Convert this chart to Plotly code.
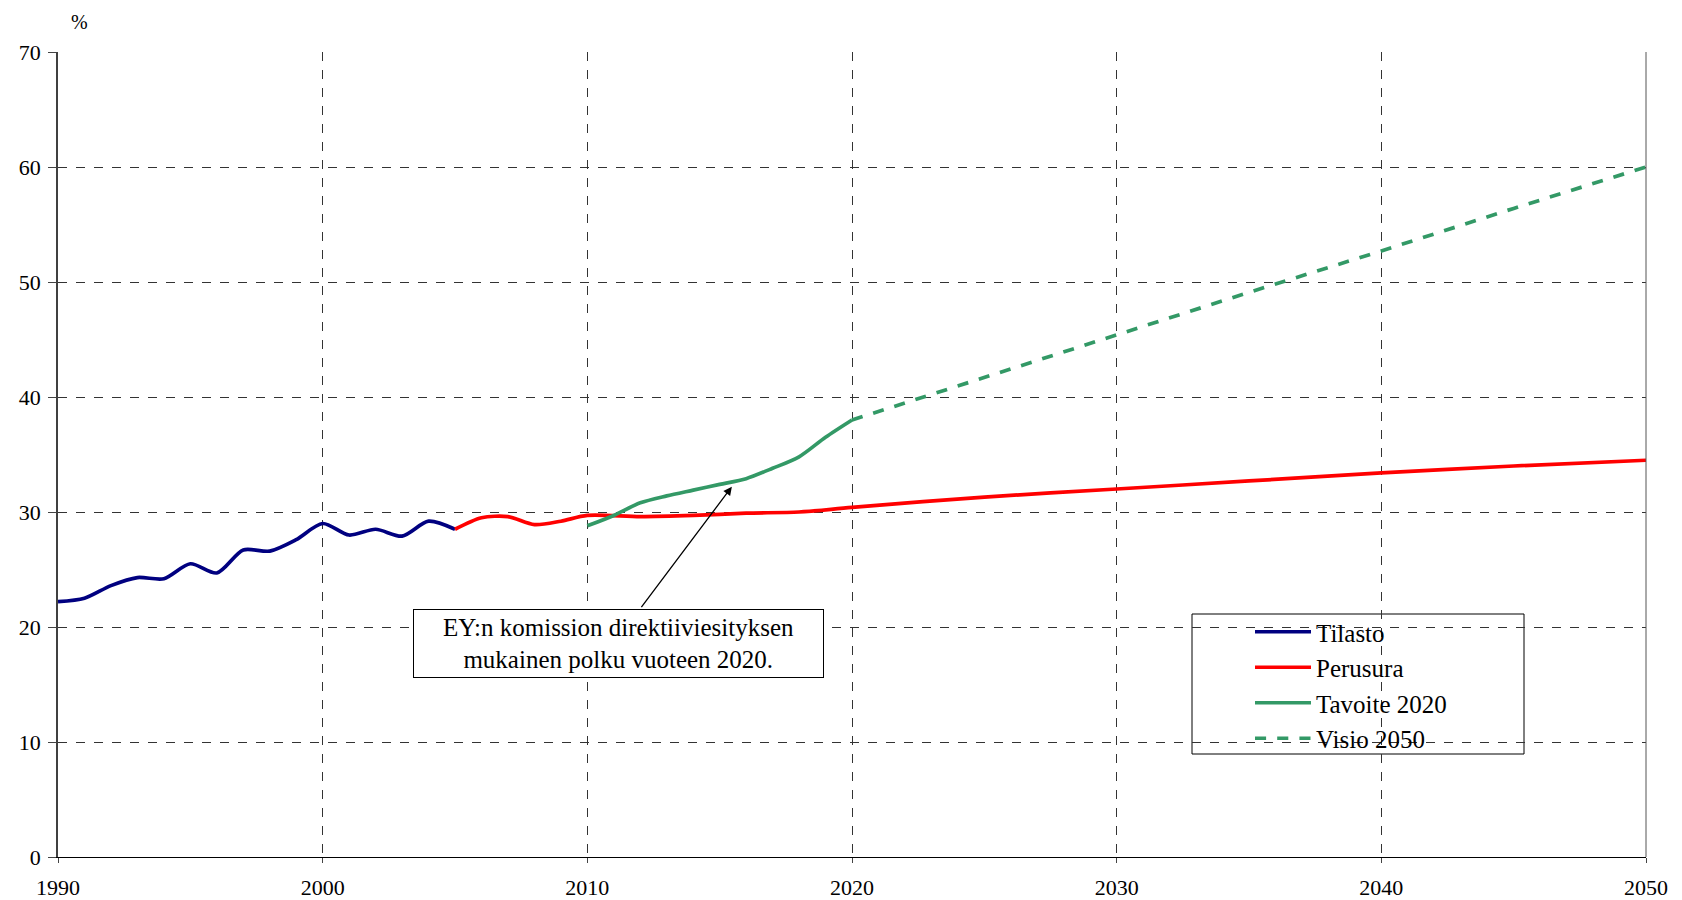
import plotly.graph_objects as go

# ---- data ----
tilasto_years = [1990, 1991, 1992, 1993, 1994, 1995, 1996, 1997, 1998, 1999,
                 2000, 2001, 2002, 2003, 2004, 2005]
tilasto_vals = [22.2, 22.5, 23.6, 24.3, 24.2, 25.5, 24.7, 26.7, 26.6, 27.6,
                29.0, 28.0, 28.5, 27.9, 29.2, 28.5]

perus_years = [2005, 2006, 2007, 2008, 2009, 2010, 2012, 2014, 2016, 2018,
               2020, 2025, 2030, 2035, 2040, 2045, 2050]
perus_vals = [28.5, 29.5, 29.6, 28.9, 29.2, 29.7, 29.6, 29.7, 29.9, 30.0,
              30.4, 31.3, 32.0, 32.7, 33.4, 34.0, 34.5]

tavoite_years = [2010, 2011, 2012, 2013, 2014, 2015, 2016, 2017, 2018, 2019, 2020]
tavoite_vals = [28.8, 29.7, 30.8, 31.4, 31.9, 32.4, 32.9, 33.8, 34.8, 36.5, 38.0]

visio_years = [2020, 2025, 2030, 2035, 2040, 2045, 2050]
visio_vals = [38.0, 41.7, 45.4, 49.1, 52.7, 56.4, 60.0]

x_ticks = [1990, 2000, 2010, 2020, 2030, 2040, 2050]
y_ticks = [0, 10, 20, 30, 40, 50, 60, 70]

FONT = "Liberation Serif"

fig = go.Figure()
fig.add_trace(go.Scatter(x=tilasto_years, y=tilasto_vals, mode="lines", name="Tilasto",
                         line=dict(color="#000080", width=3.7, shape="spline", smoothing=0.8)))
fig.add_trace(go.Scatter(x=perus_years, y=perus_vals, mode="lines", name="Perusura",
                         line=dict(color="#FF0000", width=3.7, shape="spline", smoothing=0.8)))
fig.add_trace(go.Scatter(x=tavoite_years, y=tavoite_vals, mode="lines", name="Tavoite 2020",
                         line=dict(color="#339966", width=3.7, shape="spline", smoothing=0.8)))
fig.add_trace(go.Scatter(x=visio_years, y=visio_vals, mode="lines", name="Visio 2050",
                         line=dict(color="#339966", width=3.7, dash="dash")))

# plot area in reference pixels: x 58..1646, y 52..857 (page has 8px body margin)
fig.update_layout(
    width=1682, height=900,
    margin=dict(l=50, r=44, t=44, b=51, autoexpand=False),
    paper_bgcolor="white", plot_bgcolor="white",
    font=dict(family=FONT, size=22, color="black"),
    showlegend=True,
    legend=dict(x=(1250 - 58) / 1588, y=(857 - 609) / 805, xanchor="left", yanchor="top",
                bgcolor="rgba(0,0,0,0)", borderwidth=0,
                font=dict(family=FONT, size=25), itemwidth=56),
    xaxis=dict(range=[1990, 2050], tickvals=x_ticks, ticktext=[str(v) for v in x_ticks],
               showgrid=True, gridcolor="#333", griddash="dash", gridwidth=1,
               showline=True, linecolor="black", linewidth=1,
               ticks="outside", ticklen=5, tickcolor="#444",
               ticklabelstandoff=6, zeroline=False, automargin=False),
    yaxis=dict(range=[0, 70], tickvals=y_ticks, ticktext=[str(v) for v in y_ticks],
               showgrid=True, gridcolor="#333", griddash="dash", gridwidth=1,
               showline=True, linecolor="#404040", linewidth=1.5,
               ticks="outside", ticklen=8, tickcolor="#444",
               ticklabelstandoff=3, zeroline=False, automargin=False),
    shapes=[
        dict(type="line", xref="paper", yref="paper", x0=1, x1=1, y0=0, y1=1,
             line=dict(color="#555", width=1)),
        dict(type="rect", xref="paper", yref="paper", layer="below",
             x0=(1192 - 58) / 1588, x1=(1524 - 58) / 1588,
             y0=(857 - 754) / 805, y1=(857 - 614) / 805,
             fillcolor="white", line=dict(color="black", width=1)),
    ],
    annotations=[
        dict(text="%", xref="paper", yref="paper", x=(79 - 58) / 1588, y=(857 - 22) / 805,
             xanchor="center", yanchor="middle",
             showarrow=False, font=dict(family=FONT, size=20)),
        dict(text="", x=2015.46, y=32.2, ax=2012.0, ay=21.6, axref="x", ayref="y",
             xref="x", yref="y", showarrow=True, arrowhead=2, arrowsize=1.3,
             arrowwidth=1.3, arrowcolor="black"),
        dict(text="EY:n komission direktiiviesityksen<br>mukainen polku vuoteen 2020.",
             x=2011.17, y=18.57, xref="x", yref="y", showarrow=False,
             bgcolor="white", bordercolor="black", borderwidth=1, borderpad=0,
             width=409, height=67, font=dict(family=FONT, size=25)),
    ],
)

fig.write_html("out.html")
